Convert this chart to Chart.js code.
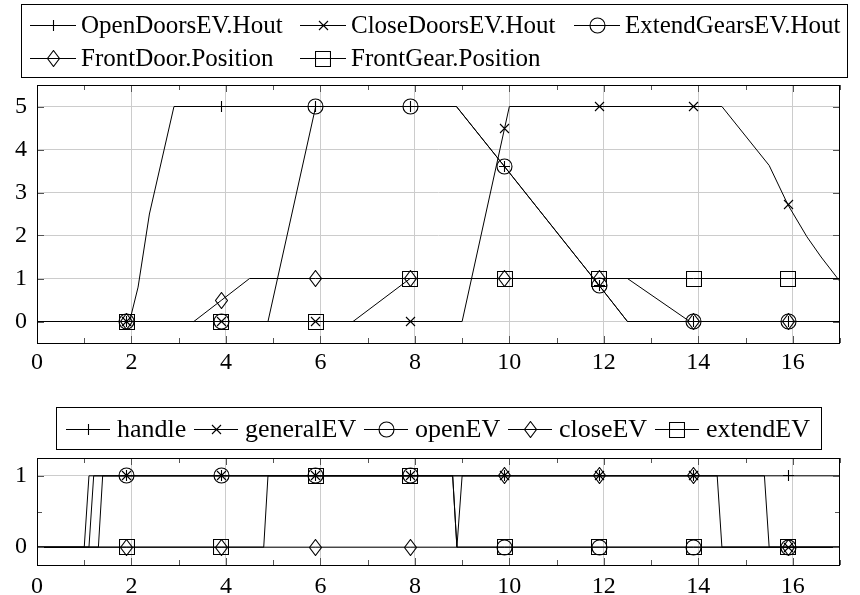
<!DOCTYPE html>
<html lang="en">
<head>
<meta charset="UTF-8">
<title>Landing gear simulation</title>
<script src="https://cdn.jsdelivr.net/npm/chart.js"></script>
<style>
    body { margin: 0; background: #fff; }
    #wrap { position: relative; width: 860px; height: 595px; }
    canvas { position: absolute; left: 0; }
    #topChart { top: 0; }
    #bottomChart { top: 380px; }
</style>
</head>
<body>
<div id="wrap">
    <canvas id="topChart" width="860" height="380"></canvas>
    <canvas id="bottomChart" width="860" height="215"></canvas>
</div>
<script>
    // x positions where markers are drawn (every 20th sample)
    const markX = [1.9, 3.9, 5.9, 7.9, 9.9, 11.9, 13.9, 15.9];

    // axis ticks
    const xMajor = [0, 2, 4, 6, 8, 10, 12, 14, 16];
    const xMinor = [1, 3, 5, 7, 9, 11, 13, 15, 17];
    const topYMajor = [0, 1, 2, 3, 4, 5];
    const botYMajor = [0, 1];
    const botYMinor = [0.5];

    // top plot: hydraulic outputs and positions
    const openDoorsT = [0, 1.9, 1.96, 2.14, 2.38, 2.9, 3.9, 5.9, 7.9, 8.88, 9.9, 11.9, 12.5, 13.9, 15.9, 17];
    const openDoorsV = [0, 0, 0, 0.8, 2.5, 5, 5, 5, 5, 5, 3.6, 0.84, 0, 0, 0, 0];
    const closeDoorsT = [0, 1.9, 3.9, 5.9, 7.9, 9.0, 9.9, 10.0, 11.9, 13.9, 14.5, 15.5, 15.9, 16.3, 16.6, 17];
    const closeDoorsV = [0, 0, 0, 0, 0, 0, 4.5, 5, 5, 5, 5, 3.63, 2.71, 1.97, 1.5, 0.93];
    const extendGearsT = [0, 1.9, 3.9, 4.89, 5.9, 7.9, 8.88, 9.9, 11.9, 12.5, 13.9, 15.9, 17];
    const extendGearsV = [0, 0, 0, 0, 5, 5, 5, 3.6, 0.84, 0, 0, 0, 0];
    const frontDoorT = [0, 1.9, 3.32, 3.9, 4.5, 5.9, 7.9, 9.9, 11.9, 12.5, 13.82, 13.9, 15.9, 17];
    const frontDoorV = [0, 0, 0, 0.49, 1, 1, 1, 1, 1, 1, 0, 0, 0, 0];
    const frontGearT = [0, 1.9, 3.9, 5.9, 6.69, 7.9, 9.9, 11.9, 13.9, 15.9, 17];
    const frontGearV = [0, 0, 0, 0, 0, 1, 1, 1, 1, 1, 1];

    // bottom plot: digital commands
    const handleT = [0, 1.0, 1.1, 1.9, 3.9, 5.9, 7.9, 9.9, 11.9, 13.9, 15.9, 17];
    const handleV = [0, 0, 1, 1, 1, 1, 1, 1, 1, 1, 1, 1];
    const generalT = [0, 1.1, 1.2, 1.9, 3.9, 5.9, 7.9, 9.9, 11.9, 13.9, 15.4, 15.5, 15.9, 17];
    const generalV = [0, 0, 1, 1, 1, 1, 1, 1, 1, 1, 1, 0, 0, 0];
    const openT = [0, 1.3, 1.39, 1.9, 3.9, 5.9, 7.9, 8.8, 8.89, 9.9, 11.9, 13.9, 15.9, 17];
    const openV = [0, 0, 1, 1, 1, 1, 1, 1, 0, 0, 0, 0, 0, 0];
    const closeT = [0, 1.9, 3.9, 5.9, 7.9, 8.89, 9.0, 9.9, 11.9, 13.9, 14.4, 14.5, 15.9, 17];
    const closeV = [0, 0, 0, 0, 0, 0, 1, 1, 1, 1, 1, 0, 0, 0];
    const extendT = [0, 1.9, 3.9, 4.8, 4.89, 5.9, 7.9, 8.8, 8.89, 9.9, 11.9, 13.9, 15.9, 17];
    const extendV = [0, 0, 0, 0, 1, 1, 1, 1, 0, 0, 0, 0, 0, 0];

    const FONT = '"Liberation Serif", "DejaVu Serif", serif';
    const GRID = '#cccccc';

    // pgfplots-like marks drawn into small canvases
    function makeMark(kind) {
        const c = document.createElement('canvas');
        const sizes = { plus: [13, 13], cross: [11, 11], circle: [17, 17], square: [16, 16], diamond: [13, 17] };
        c.width = sizes[kind][0];
        c.height = sizes[kind][1];
        const g = c.getContext('2d');
        g.strokeStyle = '#000';
        g.lineWidth = 1.1;
        g.beginPath();
        if (kind === 'plus') {
            g.moveTo(6.5, 1); g.lineTo(6.5, 12);
            g.moveTo(1, 6.5); g.lineTo(12, 6.5);
        } else if (kind === 'cross') {
            g.moveTo(1, 1); g.lineTo(10, 10);
            g.moveTo(10, 1); g.lineTo(1, 10);
        } else if (kind === 'circle') {
            g.arc(8.5, 8.5, 7.5, 0, Math.PI * 2);
        } else if (kind === 'square') {
            g.rect(0.5, 0.5, 15, 15);
        } else {
            g.moveTo(6.5, 0.5); g.lineTo(12.5, 8.5); g.lineTo(6.5, 16.5); g.lineTo(0.5, 8.5); g.closePath();
        }
        g.stroke();
        return c;
    }

    const marks = {
        plus: makeMark('plus'), cross: makeMark('cross'), circle: makeMark('circle'),
        square: makeMark('square'), diamond: makeMark('diamond')
    };

    function series(label, xs, ys, mark) {
        return {
            label: label,
            data: xs.map((x, i) => ({ x: x, y: ys[i] })),
            borderColor: '#000',
            borderWidth: 1,
            tension: 0,
            fill: false,
            pointStyle: marks[mark],
            pointRadius: ctx => markX.includes(ctx.raw.x) ? 4 : 0,
            pointHoverRadius: 0
        };
    }

    // keep the mark images sharp (no bilinear smear at sub-pixel positions)
    const crispMarks = {
        id: 'crispMarks',
        beforeDatasetsDraw(chart) { chart.ctx.imageSmoothingEnabled = false; },
        afterDatasetsDraw(chart) { chart.ctx.imageSmoothingEnabled = true; }
    };

    // legend box with line + mark samples
    const boxLegend = {
        id: 'boxLegend',
        afterDraw(chart, args, o) {
            const ctx = chart.ctx;
            const sets = chart.data.datasets;
            ctx.save();
            ctx.font = o.font;
            const cols = o.columns;
            const rows = Math.ceil(sets.length / cols);
            const colW = [];
            sets.forEach((ds, i) => {
                const c = i % cols;
                const w = o.lineLen + o.textGap + ctx.measureText(ds.label).width;
                colW[c] = Math.max(colW[c] || 0, w);
            });
            const inner = colW.reduce((a, b) => a + b, 0) + o.colGap * (cols - 1);
            const boxW = Math.round(inner + o.padL + o.padR);
            const boxH = Math.round(rows * o.rowH + o.padV * 2);
            const bx = Math.round(o.cx - boxW / 2) + 0.5;
            const by = o.top + 0.5;
            ctx.strokeStyle = '#000';
            ctx.lineWidth = 1;
            ctx.strokeRect(bx, by, boxW, boxH);
            ctx.fillStyle = '#000';
            ctx.textBaseline = 'middle';
            ctx.imageSmoothingEnabled = false;
            sets.forEach((ds, i) => {
                const c = i % cols;
                const r = Math.floor(i / cols);
                const x = Math.round(bx + o.padL + colW.slice(0, c).reduce((a, b) => a + b, 0) + o.colGap * c);
                const y = Math.round(by + o.padV + o.rowH * (r + 0.5)) + 0.5;
                ctx.beginPath();
                ctx.moveTo(x, y);
                ctx.lineTo(x + o.lineLen, y);
                ctx.stroke();
                const img = ds.pointStyle;
                ctx.drawImage(img, Math.round(x + o.lineLen / 2 - img.width / 2), Math.round(y - img.height / 2));
                ctx.fillText(ds.label, x + o.lineLen + o.textGap, y + o.textDy);
            });
            ctx.restore();
        }
    };

    // inward tick marks on all four sides plus the axis frame
    const frameTicks = {
        id: 'frameTicks',
        afterDatasetsDraw(chart, args, o) {
            const ctx = chart.ctx;
            const a = chart.chartArea;
            const sx = chart.scales.x, sy = chart.scales.y;
            ctx.save();
            ctx.strokeStyle = '#555';
            ctx.lineWidth = 1;
            ctx.beginPath();
            sx.ticks.forEach(t => {
                const len = xMajor.includes(t.value) ? o.major : o.minor;
                const px = Math.round(sx.getPixelForValue(t.value)) + 0.5;
                ctx.moveTo(px, a.bottom); ctx.lineTo(px, a.bottom - len);
                ctx.moveTo(px, a.top); ctx.lineTo(px, a.top + len);
            });
            sy.ticks.forEach(t => {
                const len = o.yMajor.includes(t.value) ? o.major : o.minor;
                const py = Math.round(sy.getPixelForValue(t.value)) + 0.5;
                ctx.moveTo(a.left, py); ctx.lineTo(a.left + len, py);
                ctx.moveTo(a.right, py); ctx.lineTo(a.right - len, py);
            });
            ctx.stroke();
            ctx.strokeStyle = '#000';
            ctx.strokeRect(Math.round(a.left) + 0.5, Math.round(a.top) + 0.5,
                Math.round(a.right - a.left) - 1, Math.round(a.bottom - a.top));
            ctx.restore();
        }
    };

    function xScale(pad, height) {
        return {
            type: 'linear',
            min: 0,
            max: 17,
            afterBuildTicks: s => { s.ticks = xMajor.concat(xMinor).sort((a, b) => a - b).map(v => ({ value: v })); },
            afterFit: s => { s.height = height; },
            border: { display: false },
            grid: {
                drawTicks: false,
                lineWidth: 1,
                color: ctx => xMajor.includes(ctx.tick.value) ? GRID : 'rgba(0,0,0,0)'
            },
            ticks: {
                autoSkip: false,
                maxRotation: 0,
                padding: pad,
                color: '#000',
                font: { family: FONT, size: 24 },
                callback: v => xMajor.includes(v) ? String(v) : ''
            }
        };
    }

    function yScale(min, max, major, minor) {
        return {
            type: 'linear',
            min: min,
            max: max,
            afterBuildTicks: s => { s.ticks = major.concat(minor).sort((a, b) => a - b).map(v => ({ value: v })); },
            afterFit: s => { s.width = 37; },
            border: { display: false },
            grid: {
                drawTicks: false,
                lineWidth: 1,
                color: ctx => major.includes(ctx.tick.value) ? GRID : 'rgba(0,0,0,0)'
            },
            ticks: {
                autoSkip: false,
                padding: 10,
                color: '#000',
                font: { family: FONT, size: 24 },
                callback: v => major.includes(v) ? String(v) : ''
            }
        };
    }

    new Chart(document.getElementById('topChart'), {
        type: 'line',
        data: {
            datasets: [
                series('OpenDoorsEV.Hout', openDoorsT, openDoorsV, 'plus'),
                series('CloseDoorsEV.Hout', closeDoorsT, closeDoorsV, 'cross'),
                series('ExtendGearsEV.Hout', extendGearsT, extendGearsV, 'circle'),
                series('FrontDoor.Position', frontDoorT, frontDoorV, 'diamond'),
                series('FrontGear.Position', frontGearT, frontGearV, 'square')
            ]
        },
        options: {
            responsive: false,
            devicePixelRatio: 1,
            animation: false,
            events: [],
            layout: { padding: { top: 85, right: 20, bottom: 0, left: 0 } },
            plugins: {
                legend: { display: false },
                tooltip: { enabled: false },
                boxLegend: { font: '25px ' + FONT, cx: 434, columns: 3, top: 4, rowH: 33, padV: 3.5, lineLen: 46, textGap: 5, colGap: 18, padL: 8, padR: 8, textDy: 1 },
                frameTicks: { major: 7, minor: 5, yMajor: topYMajor }
            },
            scales: {
                x: xScale(5, 37),
                y: yScale(-0.5, 5.5, topYMajor, [])
            }
        },
        plugins: [crispMarks, boxLegend, frameTicks]
    });

    new Chart(document.getElementById('bottomChart'), {
        type: 'line',
        data: {
            datasets: [
                series('handle', handleT, handleV, 'plus'),
                series('generalEV', generalT, generalV, 'cross'),
                series('openEV', openT, openV, 'circle'),
                series('closeEV', closeT, closeV, 'diamond'),
                series('extendEV', extendT, extendV, 'square')
            ]
        },
        options: {
            responsive: false,
            devicePixelRatio: 1,
            animation: false,
            events: [],
            layout: { padding: { top: 78, right: 20, bottom: 0, left: 0 } },
            plugins: {
                legend: { display: false },
                tooltip: { enabled: false },
                boxLegend: { font: '26px ' + FONT, cx: 438.5, columns: 5, top: 27, rowH: 42, padV: 0, lineLen: 44, textGap: 7, colGap: 8, padL: 9, padR: 11, textDy: 1 },
                frameTicks: { major: 7, minor: 5, yMajor: botYMajor }
            },
            scales: {
                x: xScale(7, 30),
                y: yScale(-0.25, 1.25, botYMajor, botYMinor)
            }
        },
        plugins: [crispMarks, boxLegend, frameTicks]
    });
</script>
</body>
</html>
